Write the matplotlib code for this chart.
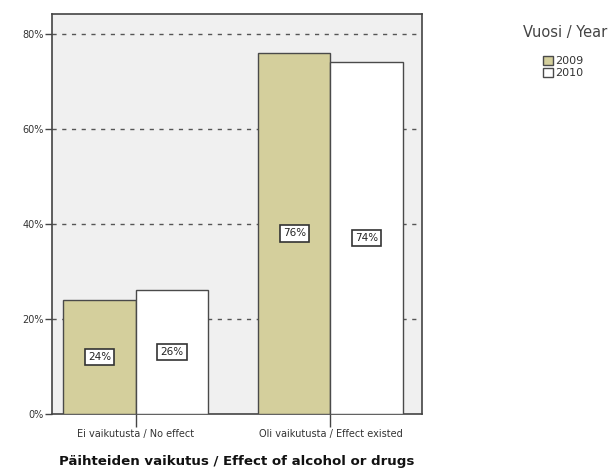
import matplotlib.pyplot as plt
from matplotlib.patches import Patch

# Data
categories = ["Ei vaikutusta / No effect", "Oli vaikutusta / Effect existed"]
years = ["2009", "2010"]
pct_2009 = [24, 76]
pct_2010 = [26, 74]
yticks = [0, 20, 40, 60, 80]

colors = {"2009": "#d4cf9c", "2010": "#ffffff"}
edge = "#4a4a4a"

fig = plt.figure(figsize=(6.14, 4.72), dpi=100)
ax = fig.add_axes([52 / 614, 1 - 414 / 472, 370 / 614, 400 / 472])
ax.set_facecolor("#f0f0f0")

width = 0.372
x = list(range(len(categories)))

for i, (year, vals) in enumerate(zip(years, [pct_2009, pct_2010])):
    pos = [xi - width / 2 + i * width for xi in x]
    bars = ax.bar(pos, vals, width=width, color=colors[year],
                  edgecolor=edge, linewidth=1.0, zorder=3)
    for b, v in zip(bars, vals):
        ax.text(b.get_x() + b.get_width() / 2, v / 2, f"{v}%",
                ha="center", va="center", fontsize=7.5, color="#222222",
                zorder=4,
                bbox=dict(boxstyle="square,pad=0.3", fc="white",
                          ec="#333333", lw=1.2))

# grid lines
for t in yticks[1:]:
    ax.axhline(t, color="#555555", linestyle=(0, (3, 4)), linewidth=1.0,
               zorder=1)

ax.set_xlim(-0.43, 1.47)
ax.set_ylim(0, 84.2)
ax.set_yticks(yticks)
ax.set_yticklabels([f"{t}%" for t in yticks], fontsize=7, color="#333333")
ax.set_xticks(x)
ax.set_xticklabels(categories, fontsize=7, color="#333333")
ax.tick_params(axis="y", length=5, width=1, color="#444444", pad=1)
ax.tick_params(axis="x", length=9, width=1, color="#444444", pad=2)

for s in ax.spines.values():
    s.set_color("#444444")
    s.set_linewidth(1.2)

ax.set_xlabel("Päihteiden vaikutus / Effect of alcohol or drugs",
              fontsize=9.6, fontweight="bold", color="#111111", labelpad=11)

# legend
fig.text(523 / 614, 1 - 32 / 472, "Vuosi / Year", fontsize=10.5,
         color="#444444", ha="left", va="center")
handles = [Patch(facecolor=colors[y], edgecolor=edge, label=y) for y in years]
leg = fig.legend(handles=handles, loc="upper left",
                 bbox_to_anchor=(543 / 614, 1 - 56 / 472),
                 frameon=False, fontsize=8,
                 handlelength=0.9, handleheight=0.9, handletextpad=0.15,
                 labelspacing=0.1, borderaxespad=0, borderpad=0)
for t in leg.get_texts():
    t.set_color("#333333")

fig.savefig("out.png", dpi=100)
